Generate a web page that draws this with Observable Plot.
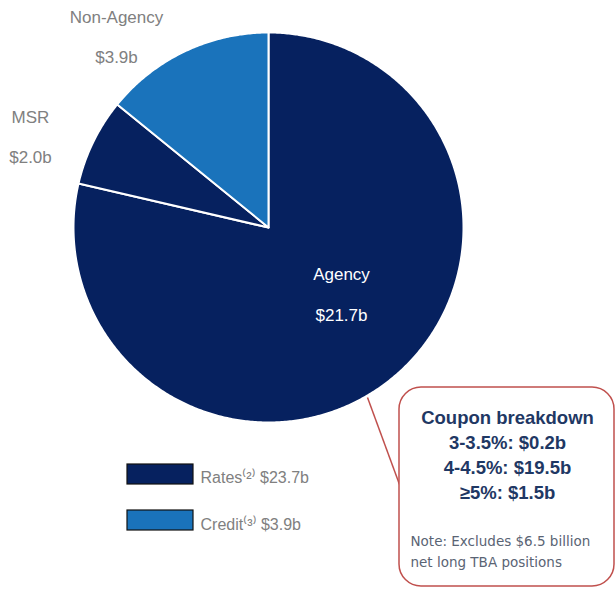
<!DOCTYPE html>
<html>
<head>
<meta charset="utf-8">
<script src="https://cdn.jsdelivr.net/npm/d3@7"></script>
<script src="https://cdn.jsdelivr.net/npm/@observablehq/plot@0.6"></script>
<style>
  html, body { margin: 0; padding: 0; background: #fff; }
  #chart { width: 616px; height: 591px; }
</style>
</head>
<body>
<div id="chart"></div>
<script>
// ---- data ----
const sliceNames = ["Agency", "MSR", "Non-Agency"];
const sliceValues = [21.7, 2.0, 3.9];
const sliceLabels = ["$21.7b", "$2.0b", "$3.9b"];
const sliceColors = ["#06215f", "#06215f", "#1a73bb"];

const legendNames = ["Rates⁽²⁾ $23.7b", "Credit⁽³⁾ $3.9b"];
const legendColors = ["#06215f", "#1a73bb"];

const calloutLines = ["Coupon breakdown", "3-3.5%: $0.2b", "4-4.5%: $19.5b", "≥5%: $1.5b"];
const noteLines = ["Note: Excludes $6.5 billion", "net long TBA positions"];

// ---- layout ----
const W = 616, H = 591;
const cx = 268, cy = 227, R = 195;

const pie = d3.pie().sort(null).value(d => d)(sliceValues);
const slicePts = [];
pie.forEach((p, i) => {
  const name = sliceNames[i];
  const push = (x, y) => slicePts.push({name, color: sliceColors[i], x, y});
  push(cx, cy);
  const n = Math.max(2, Math.ceil((p.endAngle - p.startAngle) / (Math.PI / 360)));
  for (let k = 0; k <= n; k++) {
    const a = p.startAngle + (p.endAngle - p.startAngle) * k / n;
    push(cx + R * Math.sin(a), cy - R * Math.cos(a));
  }
  push(cx, cy);
});

// label positions (layout)
const labelPos = {
  "Agency": {x: 341, y1: 274, y2: 315, fill: "#ffffff"},
  "MSR": {x: 30, y1: 117, y2: 157, fill: "#808080"},
  "Non-Agency": {x: 116, y1: 17, y2: 57, fill: "#808080"}
};
const labelData = [];
sliceNames.forEach((n, i) => {
  const p = labelPos[n];
  labelData.push({x: p.x, y: p.y1, text: n, fill: p.fill});
  labelData.push({x: p.x, y: p.y2, text: sliceLabels[i], fill: p.fill});
});

const legendData = legendNames.map((t, i) => ({
  x1: 127, x2: 193, y1: 464 + i * 46, y2: 484 + i * 46, ty: 477 + i * 47, text: t, color: legendColors[i]
}));

const calloutData = calloutLines.map((t, i) => ({x: 507, y: 418 + i * 25, text: t}));
const noteData = noteLines.map((t, i) => ({x: 410, y: 541 + i * 21, text: t}));

const chart = Plot.plot({
  width: W,
  height: H,
  margin: 0,
  x: {domain: [0, W], range: [0, W], axis: null},
  y: {domain: [0, H], range: [0, H], axis: null},
  color: {type: "identity"},
  style: {fontFamily: "'Liberation Sans', Arial, sans-serif", background: "#fff"},
  marks: [
    Plot.line(slicePts, {x: "x", y: "y", z: "name", fill: "color", stroke: "#ffffff", strokeWidth: 2, curve: "linear", strokeLinejoin: "round"}),
    Plot.text(labelData, {x: "x", y: "y", text: "text", fill: "fill", fontSize: 17, textAnchor: "middle"}),
    // legend
    Plot.rect(legendData, {x1: "x1", x2: "x2", y1: "y1", y2: "y2", fill: "color", stroke: "#111", strokeWidth: 1.2}),
    Plot.text(legendData, {x: 200, y: "ty", text: "text", fill: "#808080", fontSize: 16, textAnchor: "start"}),
    // callout pointer and box
    Plot.link([{x1: 367, y1: 397, x2: 399, y2: 484}], {x1: "x1", y1: "y1", x2: "x2", y2: "y2", stroke: "#c0504d", strokeWidth: 1.5}),
    Plot.rect([{x1: 399, x2: 614, y1: 387, y2: 586}], {x1: "x1", x2: "x2", y1: "y1", y2: "y2", fill: "#fff", stroke: "#c0504d", strokeWidth: 1.5, rx: 22}),
    Plot.text(calloutData, {x: "x", y: "y", text: "text", fill: "#1f3864", fontSize: 18.5, fontWeight: "bold", textAnchor: "middle"}),
    Plot.text(noteData, {x: "x", y: "y", text: "text", fill: "#5a6474", fontSize: 13.5, fontFamily: "'DejaVu Sans', sans-serif", textAnchor: "start"})
  ]
});
document.getElementById("chart").appendChild(chart);
</script>
</body>
</html>
